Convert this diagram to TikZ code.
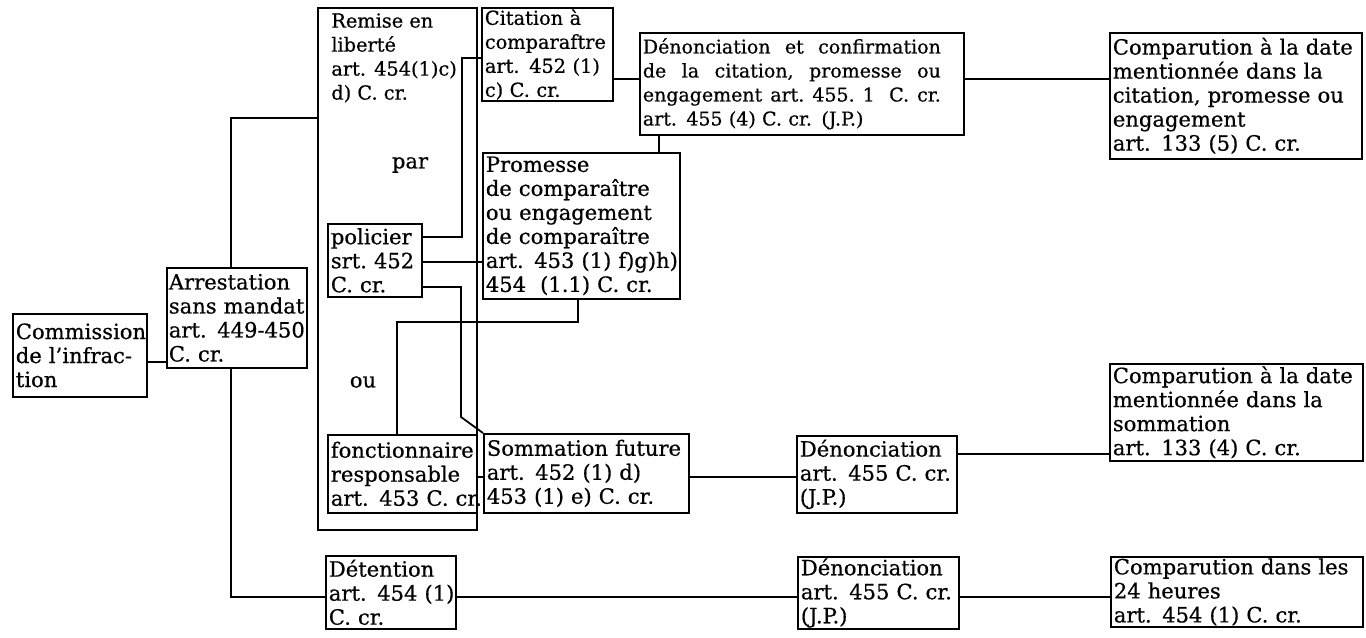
\documentclass[tikz,border=0pt]{standalone}
\usepackage{fontspec}
\setmainfont{DejaVu Serif}[FakeBold=0.6]
\usepackage{tikz}
\newcommand{\boxfont}{\fontsize{12}{13.66}\selectfont}
\newcommand{\citfont}{\fontsize{11}{13.66}\selectfont}
\newcommand{\denfont}{\fontsize{10.8}{13.66}\selectfont}

\begin{document}
\begin{tikzpicture}[x=0.02cm,y=-0.02cm,
  box/.style={draw,line width=1pt,anchor=north west,align=left,inner xsep=0.06cm,inner ysep=0.03cm,font=\boxfont},
  txt/.style={anchor=north west,align=left,inner sep=0pt,font=\boxfont},
  link/.style={line width=1pt}]
\useasboundingbox (0,0) rectangle (1366,637);

% left column
\node[box,minimum width=2.68cm,minimum height=1.66cm,text width=2.56cm] (com) at (12,313) {Commission\\de l'infrac-\\tion};
\node[box,inner xsep=0.04cm,minimum width=2.80cm,minimum height=2.00cm,text width=2.72cm] (arr) at (166,267) {Arrestation\\\mbox{sans mandat}\\\mbox{art. 449-450}\\C.~cr.};

% mise en liberte
\node[draw,line width=1pt,anchor=north west,minimum width=3.18cm,minimum height=10.44cm,inner sep=0pt] (rem) at (317,7) {};
\node[txt,font=\citfont] (remtxt) at (331,13) {Remise en\\liberté\\\mbox{art. 454(1)c)}\\d) C. cr.};
\node[txt,anchor=center] (par) at (410,165) {par};
\node[txt,anchor=center] (ou) at (363,382) {ou};
\node[box,minimum width=1.88cm,minimum height=1.46cm,text width=1.76cm] (pol) at (327,223) {policier\\srt.~452\\C.~cr.};
\node[box,minimum width=2.98cm,minimum height=1.56cm,text width=2.86cm] (fonc) at (327,434) {fonctionnaire\\responsable\\\mbox{art. 453 C. cr.}};

% formes de comparution
\node[box,font=\citfont,minimum width=2.62cm,minimum height=1.82cm,text width=2.50cm] (cit) at (481,7) {Citation à\\comparaftre\\\mbox{art. 452 (1)}\\c) C. cr.};
\node[box,minimum width=3.94cm,minimum height=2.92cm,text width=3.82cm] (prom) at (482,152) {Promesse\\de comparaître\\ou engagement\\de comparaître\\\mbox{art. 453 (1) f)g)h)}\\454\ \ (1.1) C. cr.};
\node[box,minimum width=4.10cm,minimum height=1.58cm,text width=3.98cm] (som) at (483,433) {\mbox{Sommation future}\\art. 452 (1) d)\\453 (1) e) C. cr.};
\node[box,minimum width=2.60cm,minimum height=1.46cm,text width=2.48cm] (det) at (325,555) {Détention\\\mbox{art. 454 (1)}\\C. cr.};

% denonciation
\node[box,font=\denfont,minimum width=6.48cm,minimum height=2.04cm,text width=6.36cm] (den1) at (639,32) {\makebox[5.96cm][l]{Dénonciation\hfill et\hfill confirmation}\\\makebox[5.96cm][l]{de\hfill la\hfill citation,\hfill promesse\hfill ou}\\\makebox[5.96cm][l]{engagement\hfill art.\hfill 455.\hfill 1\hfill\ C.\hfill cr.}\\art. 455 (4) C. cr. (J.P.)};
\node[box,minimum width=3.20cm,minimum height=1.54cm,text width=3.08cm] (den2) at (796,435) {Dénonciation\\\mbox{art. 455 C. cr.}\\(J.P.)};
\node[box,minimum width=3.22cm,minimum height=1.40cm,text width=3.10cm] (den3) at (797,556) {Dénonciation\\\mbox{art. 455 C. cr.}\\(J.P.)};

% comparution
\node[box,minimum width=5.04cm,minimum height=2.52cm,text width=4.92cm] (comp1) at (1109,32) {\mbox{Comparution à la date}\\mentionnée dans la\\\mbox{citation, promesse ou}\\engagement\\art. 133 (5) C. cr.};
\node[box,minimum width=5.06cm,minimum height=1.94cm,text width=4.94cm] (comp2) at (1109,363) {\mbox{Comparution à la date}\\mentionnée dans la\\sommation\\art. 133 (4) C. cr.};
\node[box,minimum width=5.04cm,minimum height=1.40cm,text width=4.92cm] (comp3) at (1110,556) {\mbox{Comparution dans les}\\24 heures\\art. 454 (1) C. cr.};

% liens
\draw[link] (com.east |- 0,362) -- (arr.west |- 0,362);
\draw[link] (arr.north -| 231,0) |- (rem.west |- 0,118);
\draw[link] (arr.south -| 231,0) |- (det.west |- 0,597);
\draw[link] (cit.east |- 0,79) -- (den1.west |- 0,79);
\draw[link] (den1.east |- 0,79) -- (comp1.west |- 0,79);
\draw[link] (den1.south -| 659,0) -- (prom.north -| 659,0);
\draw[link] (pol.east |- 0,237) -| (462,58) -- (cit.west |- 0,58);
\draw[link] (pol.east |- 0,262) -- (prom.west |- 0,262);
\draw[link] (pol.east |- 0,287) -| (461,417) -- (som.north west);
\draw[link] (fonc.north -| 397,0) |- (578,322) -- (prom.south -| 578,0);
\draw[link] (fonc.east |- 0,477) -- (som.west |- 0,477);
\draw[link] (som.east |- 0,477) -- (den2.west |- 0,477);
\draw[link] (den2.east |- 0,454) -- (comp2.west |- 0,454);
\draw[link] (det.east |- 0,597) -- (den3.west |- 0,597);
\draw[link] (den3.east |- 0,597) -- (comp3.west |- 0,597);
\end{tikzpicture}
\end{document}
